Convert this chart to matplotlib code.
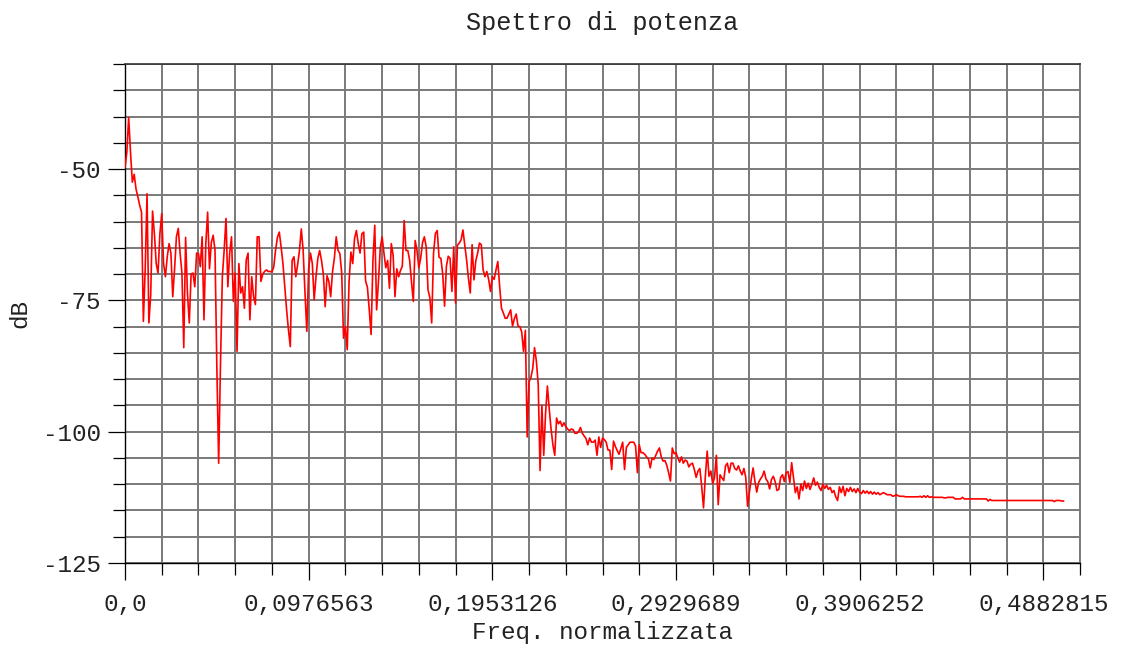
import numpy as np
import matplotlib
matplotlib.use("Agg")
import matplotlib.pyplot as plt
from matplotlib.ticker import MultipleLocator, FixedLocator

# ---------------- data ----------------
title = "Spettro di potenza"
x_label = "Freq. normalizzata"
y_label = "dB"

n_fft = 1024  # bin spacing of the normalised frequency axis
power_db = [
    # bins 0-84
    -49.7, -46.8, -40.2, -46.8, -52.5, -51.0, -53.8, -55.3, -56.9, -58.2,
    -79.0, -69.0, -54.7, -79.3, -74.0, -58.0, -62.3, -68.0, -69.8, -62.3,
    -58.5, -68.0, -70.5, -66.7, -64.2, -66.0, -74.3, -69.0, -62.9, -61.3,
    -66.0, -69.8, -84.0, -63.0, -73.6, -79.3, -70.0, -69.8, -72.4, -66.0,
    -66.1, -68.6, -62.9, -78.7, -64.2, -58.2, -69.0, -64.0, -62.6, -65.4,
    -87.5, -106.0, -87.0, -70.5, -65.4, -59.4, -72.4, -66.0, -62.9, -75.2,
    -69.8, -84.7, -68.0, -73.6, -72.4, -76.5, -67.3, -66.0, -78.7, -70.5,
    -74.3, -75.8, -62.9, -62.9, -71.4, -70.0, -69.5, -69.2, -69.5, -69.5,
    -69.6, -68.6, -65.4, -63.0, -62.0,
    # bins 85-171
    -64.8, -68.0, -72.4, -76.8, -80.6, -83.8, -67.4, -66.7, -70.5, -68.2,
    -65.5, -61.4, -65.5, -73.5, -80.9, -69.0, -66.0, -68.0, -74.9, -70.5,
    -67.0, -65.5, -67.4, -70.0, -76.2, -70.3, -71.4, -74.3, -69.5, -67.0,
    -62.9, -65.5, -66.1, -69.8, -82.2, -80.0, -84.4, -71.5, -65.8, -68.0,
    -63.2, -61.7, -64.2, -66.0, -62.3, -62.0, -71.3, -72.5, -76.8, -81.5,
    -67.4, -60.7, -76.8, -71.5, -65.0, -62.9, -66.0, -68.8, -67.4, -72.7,
    -64.2, -66.4, -74.3, -69.0, -70.5, -69.3, -68.5, -59.8, -65.5, -65.5,
    -67.4, -71.5, -75.2, -63.6, -65.5, -68.8, -67.0, -64.0, -62.9, -64.8,
    -73.0, -74.5, -79.3, -66.0, -62.3, -61.7, -66.8,
    # bins 172-258
    -67.0, -70.0, -76.1, -68.5, -66.6, -67.0, -73.3, -64.8, -75.5, -64.5,
    -64.1, -63.5, -61.6, -64.4, -67.3, -70.8, -73.6, -64.4, -71.1, -67.5,
    -66.0, -64.1, -64.4, -69.2, -70.5, -69.5, -71.0, -73.3, -70.5, -71.0,
    -69.2, -67.6, -72.4, -76.5, -77.4, -78.4, -78.4, -77.6, -76.8, -79.9,
    -78.5, -77.6, -79.9, -80.0, -81.0, -84.7, -80.7, -101.0, -90.5, -89.7,
    -88.0, -84.0, -86.6, -91.0, -107.4, -95.0, -104.5, -96.5, -91.3, -95.7,
    -99.5, -102.5, -104.5, -97.4, -98.5, -98.0, -99.0, -98.3, -99.0, -99.5,
    -99.8, -99.5, -99.6, -100.3, -100.3, -100.0, -99.2, -100.3, -100.8, -101.3,
    -102.5, -101.2, -102.0, -102.0, -101.6, -104.5, -101.0,
    # bins 259-345
    -103.0, -101.2, -101.5, -102.0, -103.5, -103.5, -107.2, -101.8, -102.8, -103.6,
    -104.3, -103.2, -102.0, -107.2, -103.0, -102.5, -102.0, -102.0, -102.0, -102.7,
    -107.8, -102.5, -104.0, -104.0, -104.3, -104.8, -105.2, -106.9, -105.0, -105.3,
    -104.5, -103.7, -103.1, -104.8, -105.6, -105.5, -106.4, -107.8, -109.4, -103.1,
    -104.2, -104.0, -105.0, -105.8, -104.8, -106.0, -105.4, -105.6, -106.7, -106.2,
    -106.0, -107.2, -108.7, -107.5, -107.0, -110.4, -114.5, -108.5, -103.7, -108.5,
    -107.5, -109.9, -108.7, -104.5, -113.9, -108.2, -108.8, -109.3, -106.5, -106.0,
    -107.8, -106.0, -106.0, -107.0, -107.3, -106.5, -107.5, -108.2, -107.0, -108.7,
    -114.2, -111.5, -109.0, -106.9, -109.5, -111.5, -109.7,
    # bins 346-432
    -109.0, -108.5, -107.5, -109.0, -109.5, -110.9, -109.1, -108.5, -109.5, -111.2,
    -111.0, -108.7, -108.2, -109.5, -107.8, -107.6, -109.7, -105.9, -108.7, -111.6,
    -110.5, -112.8, -110.0, -111.2, -109.4, -110.8, -109.8, -111.0, -110.0, -108.8,
    -110.2, -109.6, -110.6, -111.2, -110.0, -110.8, -110.2, -111.0, -110.6, -111.6,
    -111.2, -112.4, -113.1, -110.5, -111.6, -110.4, -112.2, -110.8, -111.4, -110.6,
    -111.4, -110.9, -111.6, -110.8, -111.5, -111.8, -111.2, -111.7, -111.3, -111.8,
    -111.4, -111.9, -111.5, -111.9, -111.6, -112.0, -111.8, -111.6, -111.8, -112.0,
    -112.0, -112.0, -112.3, -112.2, -112.0, -112.2, -112.3, -112.3, -112.3, -112.4,
    -112.4, -112.4, -112.4, -112.4, -112.4, -112.4, -112.4,
    # bins 433-511
    -112.3, -112.5, -112.2, -112.5, -112.2, -112.5, -112.4, -112.5, -112.5, -112.5,
    -112.5, -112.5, -112.5, -112.6, -112.6, -112.5, -112.5, -112.5, -112.5, -112.8,
    -112.8, -112.8, -112.8, -112.5, -112.8, -112.8, -112.8, -112.8, -112.8, -112.8,
    -112.8, -112.8, -112.8, -112.8, -112.8, -112.8, -112.8, -113.2, -112.9, -113.1,
    -113.1, -113.1, -113.1, -113.1, -113.1, -113.1, -113.1, -113.1, -113.1, -113.1,
    -113.1, -113.1, -113.1, -113.1, -113.1, -113.1, -113.1, -113.1, -113.1, -113.1,
    -113.1, -113.1, -113.1, -113.1, -113.1, -113.1, -113.1, -113.1, -113.1, -113.1,
    -113.1, -113.1, -113.1, -113.3, -113.1, -113.1, -113.1, -113.2, -113.2,
]
freq = np.arange(len(power_db)) / n_fft

x_tick_labels = ["0,0", "0,0976563", "0,1953126", "0,2929689", "0,3906252", "0,4882815"]
y_tick_values = [-50, -75, -100, -125]

# ---------------- plotting ----------------
FONT = "Liberation Mono"
FS = 17.5
plt.rcParams["font.family"] = [FONT, "DejaVu Sans Mono"]

W, H = 1127, 646
fig = plt.figure(figsize=(W / 100, H / 100), dpi=100)
ax = fig.add_axes([125 / W, 1 - 563 / H, (1080 - 125) / W, (563 - 64) / H])

ax.plot(freq, power_db, color="#ff0000", lw=1.2, zorder=3)

x_ticks = [float(s.replace(",", ".")) for s in x_tick_labels]
ax.set_xlim(0, 26 * 0.01953126)
ax.set_ylim(-125, -30)
ax.xaxis.set_major_locator(FixedLocator(x_ticks))
ax.set_xticklabels(x_tick_labels, fontsize=FS, color="#222222")
ax.xaxis.set_minor_locator(MultipleLocator(0.01953126))
ax.yaxis.set_major_locator(FixedLocator(y_tick_values))
ax.set_yticklabels([str(v) for v in y_tick_values], fontsize=FS, color="#222222")
ax.yaxis.set_minor_locator(MultipleLocator(5))

ax.tick_params(axis="both", which="major", direction="out", length=12.5, width=0.9, color="black")
ax.tick_params(axis="both", which="minor", direction="out", length=8.5, width=0.9, color="black")
ax.tick_params(axis="x", which="major", pad=9)
ax.tick_params(axis="y", which="major", pad=5)

ax.grid(True, which="both", color="#7a7a7a", lw=1.4, zorder=1)
ax.set_axisbelow(True)
for s in ["left", "bottom"]:
    ax.spines[s].set_color("black")
    ax.spines[s].set_linewidth(1.0)
ax.spines["top"].set_color("#333333")
ax.spines["top"].set_linewidth(1.2)
ax.spines["right"].set_color("#7a7a7a")
ax.spines["right"].set_linewidth(1.4)

cx = (125 + 1080) / 2 / W
fig.text(cx, 1 - 23 / H, title, ha="center", va="center", fontsize=18.2, color="#222222")
fig.text(cx, 1 - 633 / H, x_label, ha="center", va="center", fontsize=FS, color="#222222")
fig.text(19.5 / W, 1 - 313 / H, y_label, ha="center", va="center", rotation=90,
         fontsize=FS, color="#222222")

fig.savefig("out.png", dpi=100, facecolor="white")
